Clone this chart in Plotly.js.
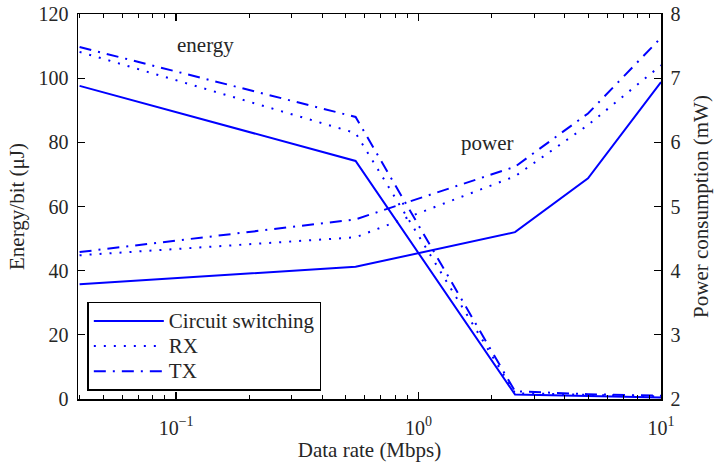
<!DOCTYPE html>
<html>
<head>
<meta charset="utf-8">
<script src="https://cdn.plot.ly/plotly-3.0.1.min.js"></script>
<style>
  html, body { margin: 0; padding: 0; background: #fff; }
  #chart { width: 720px; height: 462px; }
</style>
</head>
<body>
<div id="chart"></div>
<script>
// Data rate (Mbps) at which each configuration was evaluated
const rates = [0.04, 0.55, 2.5, 5, 10];

// Energy per bit (µJ), left axis
const energyCircuit = [97.6, 74.2, 1.4, 0.9, 0.5];
const energyRX      = [108.2, 82.9, 1.8, 1.2, 0.8];
const energyTX      = [109.7, 87.9, 2.4, 1.5, 1.0];

// Power consumption (mW), right axis
const powerCircuit = [3.79, 4.06, 4.60, 5.44, 6.94];
const powerRX      = [4.24, 4.52, 5.47, 6.27, 7.20];
const powerTX      = [4.29, 4.80, 5.62, 6.45, 7.63];

const seriesNames = ['Circuit switching', 'RX', 'TX'];

const BLUE = '#0000ff';
const FONT = 'Liberation Serif, Times New Roman, serif';
const TEXT = '#262626';
const TICK_SIZE = 20;
const TITLE_SIZE = 21;

const styles = [
  { color: BLUE, width: 2, dash: 'solid' },
  { color: BLUE, width: 2, dash: '2px,8px' },
  { color: BLUE, width: 2, dash: '12px,7px,2px,7px' }
];

const energy = [energyCircuit, energyRX, energyTX];
const power = [powerCircuit, powerRX, powerTX];

// legend labels are set a little larger than the row spacing font
const legendLabel = name => '<span style="font-size:21px">' + name + '</span>';

const traces = [];
seriesNames.forEach((name, i) => {
  traces.push({
    x: rates, y: energy[i], yaxis: 'y', type: 'scatter', mode: 'lines',
    name: legendLabel(name), legendgroup: name, line: styles[i]
  });
});
seriesNames.forEach((name, i) => {
  traces.push({
    x: rates, y: power[i], yaxis: 'y2', type: 'scatter', mode: 'lines',
    name: legendLabel(name), legendgroup: name, showlegend: false, line: styles[i]
  });
});

// minor ticks at 2..9 within each decade
const minorVals = [];
[0.01, 0.1, 1].forEach(d => { for (let k = 2; k <= 9; k++) minorVals.push(d * k); });

const tickFont = { family: FONT, size: TICK_SIZE, color: TEXT };
const titleFont = { family: FONT, size: TITLE_SIZE, color: TEXT };

const layout = {
  width: 720, height: 462,
  margin: { l: 78, r: 59, t: 14, b: 63 },
  paper_bgcolor: '#fff', plot_bgcolor: '#fff',
  font: { family: FONT, size: TICK_SIZE, color: TEXT },
  showlegend: true,
  xaxis: {
    type: 'log',
    range: [Math.log10(0.0394), 1],
    tickmode: 'array',
    tickvals: [0.1, 1, 10],
    ticktext: ['10<sup>\u22121</sup>', '10<sup>0</sup>', '10<sup>1</sup>'],
    ticks: 'inside', ticklen: 7, tickwidth: 1.2, tickcolor: '#000',
    ticklabelstandoff: 10,
    minor: { tickmode: 'array', tickvals: minorVals, ticks: 'inside', ticklen: 4, tickcolor: '#000', tickwidth: 1 },
    showline: true, linecolor: '#000', linewidth: 1.5, mirror: 'ticks',
    showgrid: false, zeroline: false,
    tickfont: tickFont,
    title: { text: 'Data rate (Mbps)', font: titleFont, standoff: 4 }
  },
  yaxis: {
    range: [0, 120], dtick: 20, tick0: 0,
    ticks: 'inside', ticklen: 7, tickwidth: 1.2, tickcolor: '#000',
    ticklabelstandoff: 4,
    showline: true, linecolor: '#000', linewidth: 1.5,
    showgrid: false, zeroline: false,
    tickfont: tickFont,
    title: { text: 'Energy/bit (\u03bcJ)', font: titleFont, standoff: 8 }
  },
  yaxis2: {
    overlaying: 'y', side: 'right',
    range: [2, 8], dtick: 1, tick0: 2,
    ticks: 'inside', ticklen: 7, tickwidth: 1.2, tickcolor: '#000',
    ticklabelstandoff: 4,
    showline: true, linecolor: '#000', linewidth: 1.5,
    showgrid: false, zeroline: false,
    tickfont: tickFont,
    title: { text: 'Power consumption (mW)', font: titleFont, standoff: 14 }
  },
  legend: {
    x: 0.016, y: 0.021, xanchor: 'left', yanchor: 'bottom',
    bgcolor: '#fff', bordercolor: '#000', borderwidth: 1.5,
    font: { family: FONT, size: 17, color: TEXT },
    itemwidth: 70, tracegroupgap: 0
  },
  annotations: [
    { x: Math.log10(0.132), y: 110.3, xref: 'x', yref: 'y', text: 'energy', showarrow: false,
      font: titleFont },
    { x: Math.log10(1.92), y: 79.8, xref: 'x', yref: 'y', text: 'power', showarrow: false,
      font: titleFont }
  ]
};

Plotly.newPlot('chart', traces, layout, { displayModeBar: false, staticPlot: true });
</script>
</body>
</html>
